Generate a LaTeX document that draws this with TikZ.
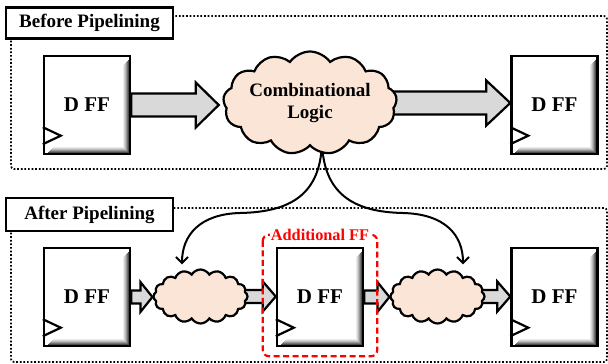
\documentclass[tikz,border=0pt]{standalone}
\usepackage{fontspec}
\setmainfont{Liberation Serif}
\usetikzlibrary{shapes.symbols,backgrounds,arrows.meta,calc}

\definecolor{cloudfill}{HTML}{FBE5D6}
\definecolor{arrowfill}{HTML}{D9D9D9}
\definecolor{ffred}{HTML}{FF0000}

% block arrow from #1 to the tip #2: shaft half width #3, head half width #4, head length #5
\newcommand\blockarrow[5]{%
  \draw[blockarr] let \p1=(#1), \p2=(#2) in
    (\x1,\y1+#3) -- (\x2-#5,\y1+#3) -- (\x2-#5,\y1+#4) -- (\x2,\y1)
    -- (\x2-#5,\y1-#4) -- (\x2-#5,\y1-#3) -- (\x1,\y1-#3) -- cycle;}

% clock input triangle on the left edge of a flip-flop
\newcommand\clockmark[1]{%
  \draw[line width=2.2pt, line join=miter] ([yshift=28pt]#1.south west) -- ++(18,8.5) -- ([yshift=11pt]#1.south west);}

\begin{document}
\begin{tikzpicture}[x=1pt,y=-1pt,
  titlebox/.style={draw, line width=2.4pt, fill=white, minimum width=167pt, minimum height=31pt,
    inner sep=0pt, font=\fontsize{19}{22}\selectfont\bfseries},
  frame/.style={line width=1.7pt, dash pattern=on 1.7pt off 1.9pt, rounded corners=3pt},
  dff/.style={draw, line width=2.4pt, fill=white, minimum width=86pt, minimum height=98pt,
    inner sep=0pt, font=\fontsize{21}{24}\selectfont\bfseries,
    path picture={
      % soft inner shadow along the right and bottom edges
      \foreach \d/\g in {6.5/8,5.5/16,4.5/27,3.5/40,2.5/55,1.5/70}{
        \draw[black!\g, line width=1.1pt]
          ([xshift=-\d pt, yshift={-\d pt-2pt}]path picture bounding box.north east)
          -- ([xshift=-\d pt, yshift=\d pt]path picture bounding box.south east)
          -- ([xshift={\d pt+2pt}, yshift=\d pt]path picture bounding box.south west);
      }
    }},
  logic/.style={cloud, draw, line width=2.2pt, fill=cloudfill, cloud ignores aspect,
    inner sep=0pt, align=center, font=\fontsize{19}{23}\selectfont\bfseries},
  blockarr/.style={draw, line width=2.2pt, fill=arrowfill, line join=miter},
  curve/.style={line width=2pt, -{Straight Barb[length=6pt,width=12pt,line width=2pt]}},
  redbox/.style={draw=ffred, line width=2.2pt, dash pattern=on 6pt off 3.5pt, rounded corners=6pt},
]
\useasboundingbox (0,0) rectangle (608,364);

% section labels
\node[titlebox] (before) at (89.5,23) {Before Pipelining};
\node[titlebox, minimum height=33pt] (after) at (89.5,214.5) {After Pipelining};

% before pipelining
\node[dff] (a1) at (87,105) {D FF};
\node[logic, cloud puffs=13, cloud puff arc=110, minimum width=172pt, minimum height=103pt]
  (comb) at (310,103) {Combinational\\[-1pt]Logic};
\node[dff] (a2) at (554.5,105) {D FF};

% after pipelining
\node[dff] (b1) at (87,297) {D FF};
\node[logic, cloud puffs=16, cloud puff arc=120, minimum width=94pt, minimum height=54pt]
  (c1) at (200.5,296.5) {};
\node[dff] (b2) at (320,297) {D FF};
\node[logic, cloud puffs=16, cloud puff arc=120, minimum width=94pt, minimum height=54pt]
  (c2) at (437.5,296.5) {};
\node[dff] (b3) at (554.5,297) {D FF};

\clockmark{a1}
\clockmark{a2}
\clockmark{b1}
\clockmark{b2}
\clockmark{b3}

% the inserted register
\draw[redbox] ([xshift=-13pt,yshift=12pt]b2.north west) rectangle ([xshift=13pt,yshift=-9pt]b2.south east);
\node[fill=white, inner xsep=1pt, inner ysep=1.5pt, anchor=base, text=ffred,
  font=\fontsize{16.3}{18}\selectfont\bfseries] (addl) at (320,240) {Additional FF};

\begin{scope}[on background layer]
  \draw[frame] (11,16) rectangle (607,169);
  \draw[frame] (11,208) rectangle (607,362);

  \blockarrow{a1.east}{[xshift=-4pt]comb.west}{11.5pt}{22.5pt}{23pt}
  \blockarrow{[xshift=-12pt]comb.east}{a2.west}{11.5pt}{22.5pt}{24pt}

  \blockarrow{b1.east}{c1.west}{6.5pt}{15pt}{12pt}
  \blockarrow{[xshift=-8pt]c1.east}{b2.west}{6.5pt}{15pt}{13pt}
  \blockarrow{b2.east}{c2.west}{6.5pt}{15pt}{12pt}
  \blockarrow{[xshift=-8pt]c2.east}{b3.west}{6.5pt}{15pt}{13pt}

  % the logic is split into two halves
  \draw[curve] ([xshift=12pt,yshift=8pt]comb.south) .. controls (322,195) and (290,212) .. (240,213)
    .. controls (200,214) and (182,235) .. ([xshift=-18.5pt,yshift=4pt]c1.north);
  \draw[curve] ([xshift=12pt,yshift=8pt]comb.south) .. controls (322,195) and (355,212) .. (403,213)
    .. controls (445,214) and (463,235) .. ([xshift=25.5pt,yshift=4pt]c2.north);
\end{scope}
\end{tikzpicture}
\end{document}
